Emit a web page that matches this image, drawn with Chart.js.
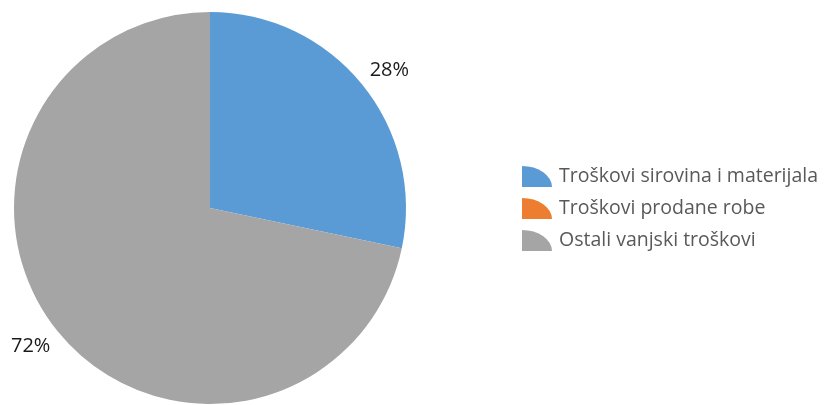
<!DOCTYPE html>
<html>
<head>
<meta charset="utf-8">
<script src="https://cdn.jsdelivr.net/npm/chart.js@4.4.0/dist/chart.umd.min.js"></script>
<style>
html,body{margin:0;padding:0;background:#fff;}
#wrap{width:825px;height:405px;}
</style>
</head>
<body>
<div id="wrap"><canvas id="c" width="825" height="405"></canvas></div>
<script>
const categories = ['Troškovi sirovina i materijala', 'Troškovi prodane robe', 'Ostali vanjski troškovi'];
const values = [28.3, 0, 71.7];
const colors = ['#5B9BD5', '#ED7D31', '#A5A5A5'];

const FONT = '"Open Sans", "Liberation Sans", sans-serif';

const labelPlugin = {
  id: 'pieLabels',
  afterDatasetsDraw(chart) {
    const ctx = chart.ctx;
    const meta = chart.getDatasetMeta(0);
    const data = chart.data.datasets[0].data;
    const total = data.reduce((a, b) => a + b, 0);
    ctx.save();
    ctx.font = '20px ' + FONT;
    ctx.fillStyle = '#1a1a1a';
    ctx.textAlign = 'center';
    ctx.textBaseline = 'middle';
    meta.data.forEach((arc, i) => {
      if (!data[i]) return;
      const p = arc.getProps(['x', 'y', 'startAngle', 'endAngle', 'outerRadius'], true);
      const mid = (p.startAngle + p.endAngle) / 2;
      const d = p.outerRadius + 7;
      const c = Math.cos(mid), s = Math.sin(mid);
      const txt = Math.round(data[i] / total * 100) + '%';
      const w = ctx.measureText(txt).width + 4;
      const h = 20;
      const tx = p.x + c * d + Math.sign(c) * w / 2;
      const ty = p.y + s * d + Math.sign(s) * h / 2;
      ctx.fillText(txt, tx, ty);
    });
    ctx.restore();
  }
};

const legendPlugin = {
  id: 'wedgeLegend',
  afterDraw(chart) {
    const ctx = chart.ctx;
    const labels = chart.data.labels;
    const bg = chart.data.datasets[0].backgroundColor;
    ctx.save();
    ctx.font = '19.5px ' + FONT;
    ctx.textAlign = 'left';
    ctx.textBaseline = 'middle';
    const x0 = 522, y0 = 177, step = 32;
    labels.forEach((lab, i) => {
      const cy = y0 + i * step;
      const by = cy + 10;
      ctx.beginPath();
      ctx.moveTo(x0, by);
      ctx.lineTo(x0, by - 21);
      ctx.ellipse(x0, by, 30, 21, 0, -Math.PI / 2, 0);
      ctx.closePath();
      ctx.fillStyle = bg[i];
      ctx.fill();
      ctx.fillStyle = '#595959';
      ctx.fillText(lab, 559, cy - 1);
    });
    ctx.restore();
  }
};

new Chart(document.getElementById('c'), {
  type: 'pie',
  data: {
    labels: categories,
    datasets: [{
      data: values,
      backgroundColor: colors,
      borderWidth: 0
    }]
  },
  options: {
    responsive: false,
    animation: false,
    layout: { padding: { left: 14, right: 419, top: 12, bottom: 1 } },
    plugins: {
      legend: { display: false },
      tooltip: { enabled: false }
    }
  },
  plugins: [labelPlugin, legendPlugin]
});
</script>
</body>
</html>
